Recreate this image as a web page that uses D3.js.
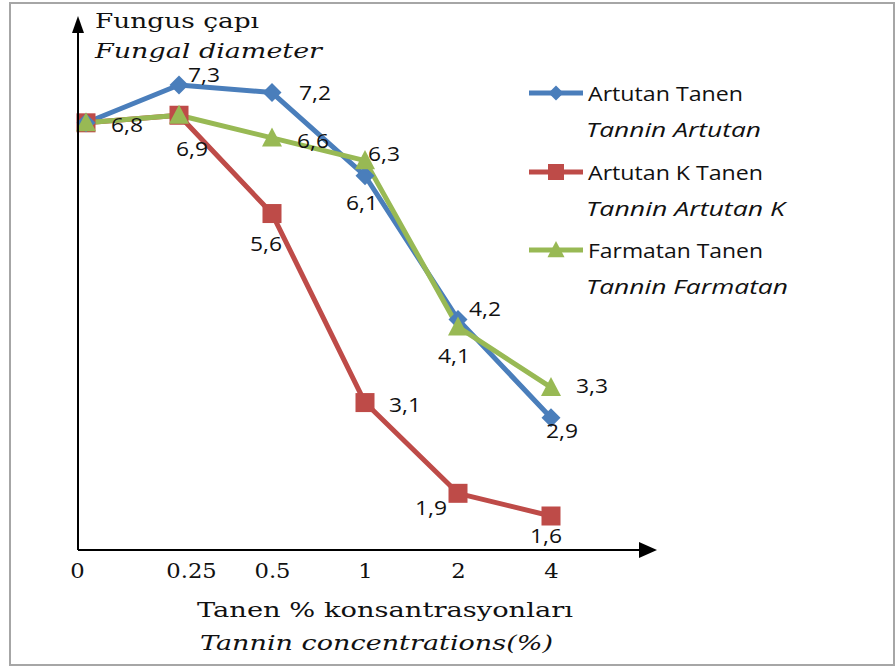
<!DOCTYPE html>
<html>
<head>
<meta charset="utf-8">
<script src="https://cdn.jsdelivr.net/npm/d3@7/dist/d3.min.js"></script>
<style>
  html, body { margin: 0; padding: 0; background: #fff; }
  svg { display: block; }
</style>
</head>
<body>
<svg id="chart" width="895" height="667"></svg>
<script>
// ---- data ----
const categories = ["0", "0.25", "0.5", "1", "2", "4"];
const artutanTanen = [6.8, 7.3, 7.2, 6.1, 4.2, 2.9];
const artutanKTanen = [6.8, 6.9, 5.6, 3.1, 1.9, 1.6];
const farmatanTanen = [6.8, 6.9, 6.6, 6.3, 4.1, 3.3];
const seriesNames = ["Artutan Tanen", "Artutan K Tanen", "Farmatan Tanen"];
const seriesNamesEn = ["Tannin Artutan", "Tannin Artutan K", "Tannin Farmatan"];
const yTitle = ["Fungus çapı", "Fungal diameter"];
const xTitle = ["Tanen % konsantrasyonları", "Tannin concentrations(%)"];

// ---- layout ----
const svg = d3.select("#chart");
const axisX = 78, axisY = 550;

const x = d3.scalePoint().domain(categories).range([86, 551]);
const y = d3.scaleLinear().domain([1.6, 7.3]).range([516, 85]);

// horizontal stretch of text (reference text is wide)
function stretch(sel, factor) {
  sel.each(function () {
    const len = this.getComputedTextLength();
    d3.select(this).attr("textLength", len * factor).attr("lengthAdjust", "spacingAndGlyphs");
  });
}
function fitWidth(sel, w) {
  sel.attr("textLength", w).attr("lengthAdjust", "spacingAndGlyphs");
}

// frame
svg.append("rect").attr("x", 10).attr("y", 3).attr("width", 884).attr("height", 662)
  .attr("fill", "none").attr("stroke", "#a6a6a6").attr("stroke-width", 2);

const colors = ["#4a7ebb", "#be4b48", "#98b954"];
const series = [artutanTanen, artutanKTanen, farmatanTanen];

// label offsets (dx, dy baseline) per series / point
const labelOff = [
  [null, [25, -3], [43, 7], [-3, 34], [27, -3], [11, 20]],
  [null, [13, 41], [-6, 37], [40, 9], [-27, 22], [-5, 27]],
  [[41, 9], null, [41, 10], [19, 0], [-4, 36], [41, 6]]
];

const fontSans = "'Open Sans', 'Noto Sans', sans-serif";
const fontSerif = "'DejaVu Serif', serif";

// lines
const line = d3.line().x((d, i) => x(categories[i])).y(d => y(d));
series.forEach((s, k) => {
  svg.append("path").datum(s).attr("d", line)
    .attr("fill", "none").attr("stroke", colors[k]).attr("stroke-width", 5)
    .attr("stroke-linejoin", "round");
});

function marker(g, k, cx, cy, size) {
  if (k === 0) {
    const r = size / 2;
    g.append("path").attr("d", `M${cx},${cy - r} L${cx + r},${cy} L${cx},${cy + r} L${cx - r},${cy} Z`)
      .attr("fill", colors[k]);
  } else if (k === 1) {
    g.append("rect").attr("x", cx - size / 2).attr("y", cy - size / 2)
      .attr("width", size).attr("height", size).attr("fill", colors[k]);
  } else {
    const h = size * 0.95;
    g.append("path").attr("d", `M${cx},${cy - h / 2 - 2} L${cx + size / 2 + 1},${cy + h / 2} L${cx - size / 2 - 1},${cy + h / 2} Z`)
      .attr("fill", colors[k]);
  }
}

// markers: red first, then blue, then green on top
[1, 0, 2].forEach(k => {
  const g = svg.append("g");
  series[k].forEach((v, i) => marker(g, k, x(categories[i]), y(v), k === 1 ? 19 : (k === 0 ? 19 : 18)));
});

// data labels
series.forEach((s, k) => {
  s.forEach((v, i) => {
    const off = labelOff[k][i];
    if (!off) return;
    const t = svg.append("text")
      .attr("x", x(categories[i]) + off[0])
      .attr("y", y(v) + off[1])
      .attr("text-anchor", "middle")
      .attr("font-family", fontSans)
      .attr("font-size", 20)
      .attr("fill", "#111")
      .text(String(v).replace(".", ","));
    fitWidth(t, 32);
  });
});

// axes (arrows)
svg.append("line").attr("x1", axisX).attr("y1", axisY).attr("x2", axisX).attr("y2", 30)
  .attr("stroke", "#000").attr("stroke-width", 2);
svg.append("path").attr("d", `M${axisX},16 L${axisX + 6},33 L${axisX - 6},33 Z`).attr("fill", "#000");
svg.append("line").attr("x1", axisX).attr("y1", axisY).attr("x2", 642).attr("y2", axisY)
  .attr("stroke", "#000").attr("stroke-width", 2);
svg.append("path").attr("d", `M657,${axisY} L639,${axisY - 8} L639,${axisY + 8} Z`).attr("fill", "#000");

// x tick labels via axis
const tickShift = { "0": -9, "0.25": 12 };
const xAxis = svg.append("g").attr("transform", `translate(0,${axisY})`)
  .call(d3.axisBottom(x).tickSize(0).tickPadding(0));
xAxis.select(".domain").remove();
xAxis.selectAll("text")
  .attr("font-family", fontSerif).attr("font-size", 21).attr("fill", "#111")
  .attr("dy", 0).attr("y", 28)
  .attr("dx", d => tickShift[d] || 0);
stretch(xAxis.selectAll("text"), 1.08);

// axis titles
fitWidth(svg.append("text").attr("x", 95).attr("y", 28).attr("font-family", fontSerif)
  .attr("font-size", 21).attr("fill", "#111").text(yTitle[0]), 164);
fitWidth(svg.append("text").attr("x", 95).attr("y", 58).attr("font-family", fontSerif).attr("font-style", "italic")
  .attr("font-size", 21).attr("fill", "#111").text(yTitle[1]), 227);
fitWidth(svg.append("text").attr("x", 197).attr("y", 617).attr("font-family", fontSerif)
  .attr("font-size", 21).attr("fill", "#111").text(xTitle[0]), 376);
fitWidth(svg.append("text").attr("x", 200).attr("y", 650).attr("font-family", fontSerif).attr("font-style", "italic")
  .attr("font-size", 21).attr("fill", "#111").text(xTitle[1]), 353);

// legend
const legY = [93, 172, 250];
const legW = [155, 175, 175];
const legWEn = [175, 199, 202];
seriesNames.forEach((name, k) => {
  const g = svg.append("g");
  g.append("line").attr("x1", 529).attr("x2", 583).attr("y1", legY[k]).attr("y2", legY[k])
    .attr("stroke", colors[k]).attr("stroke-width", 5);
  marker(g, k, 556, legY[k], k === 1 ? 16 : 15);
  fitWidth(g.append("text").attr("x", 588).attr("y", legY[k] + 7.5)
    .attr("font-family", fontSans).attr("font-size", 20).attr("fill", "#111").text(name), legW[k]);
  fitWidth(g.append("text").attr("x", 586).attr("y", legY[k] + 44)
    .attr("font-family", fontSans).attr("font-style", "italic")
    .attr("font-size", 20).attr("fill", "#111").text(seriesNamesEn[k]), legWEn[k]);
});
</script>
</body>
</html>
